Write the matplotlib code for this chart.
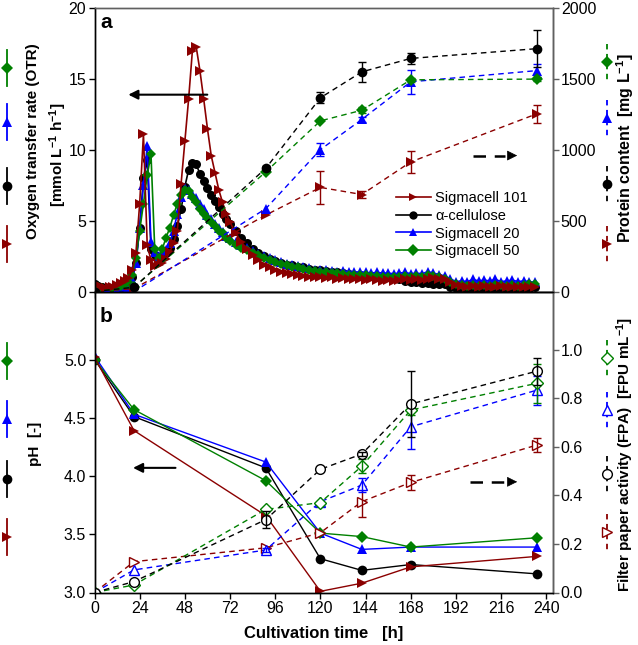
import numpy as np
import matplotlib
matplotlib.use('Agg')
import matplotlib.pyplot as plt
from matplotlib.lines import Line2D

plt.rcParams['font.family'] = ['Liberation Sans', 'DejaVu Sans']
plt.rcParams['mathtext.fontset'] = 'custom'
plt.rcParams['mathtext.rm'] = 'Liberation Sans'
plt.rcParams['mathtext.bf'] = 'Liberation Sans:bold'
plt.rcParams['mathtext.it'] = 'Liberation Sans:italic'

# --- data ---
names = ['Sigmacell 101', 'α-cellulose', 'Sigmacell 20', 'Sigmacell 50']
colors = ['#8b0000', 'black', 'blue', 'green']
markers = ['>', 'o', '^', 'D']

# online OTR [mmol/L/h]
t_otr = [0, 2, 4, 6, 8, 10, 12, 14, 16, 18, 20, 22, 24, 26, 28, 30, 32, 34,
         36, 38, 40, 42, 44, 46, 48, 50, 52, 54, 56, 58, 60, 62, 64, 66, 68, 70,
         72, 75, 78, 81, 84, 87, 90, 93, 96, 99, 102, 105, 108, 111, 114, 117,
         120, 123, 126, 129, 132, 135, 138, 141, 144, 147, 150, 153, 156, 159,
         162, 165, 168, 171, 174, 177, 180, 183, 186, 189, 192, 195, 198, 201,
         204, 207, 210, 213, 216, 219, 222, 225, 228, 231, 234]
otr_s101 = [0.5, 0.45, 0.3, 0.25, 0.3, 0.35, 0.45, 0.6, 0.75, 0.95, 1.5, 2.7,
            6.2, 11.1, 3.3, 2.2, 1.8, 1.9, 2.0, 2.3, 2.8, 3.4, 4.3, 7.6,
            10.6, 13.6, 17.0, 17.3, 15.6, 13.6, 11.5, 9.6, 8.4, 7.2, 6.3, 5.5,
            4.9, 4.1, 3.5, 3.0, 2.6, 2.2, 1.9, 1.7, 1.5, 1.4, 1.3, 1.25, 1.2, 1.1, 1.05,
            1.0, 1.0, 0.95, 1.0, 0.9, 0.95, 0.85, 0.9, 0.85, 0.8, 0.85, 0.8, 0.75, 0.8, 0.75,
            0.8, 0.85, 0.8, 0.85, 0.8, 0.9, 0.95, 0.9, 0.85, 0.7, 0.45, 0.4, 0.35, 0.4, 0.35,
            0.4, 0.35, 0.35, 0.4, 0.35, 0.3, 0.35, 0.3, 0.3, 0.35]
otr_acell = [0.5, 0.4, 0.3, 0.2, 0.2, 0.2, 0.25, 0.3, 0.4, 0.6, 1.0, 2.0,
             4.5, 8.0, 9.3, 3.0, 2.6, 2.4, 2.5, 2.7, 3.1, 3.7, 4.6, 5.8,
             7.4, 8.6, 9.1, 9.0, 8.3, 7.8, 7.3, 6.8, 6.4, 6.0, 5.5, 5.1,
             4.8, 4.3, 3.8, 3.4, 3.0, 2.7, 2.5, 2.3, 2.15, 2.0, 1.9, 1.85, 1.75, 1.7, 1.6,
             1.55, 1.5, 1.45, 1.4, 1.35, 1.3, 1.25, 1.2, 1.15, 1.1, 1.1, 1.05, 1.0, 1.0, 0.95,
             0.9, 0.75, 0.7, 0.65, 0.6, 0.6, 0.55, 0.55, 0.5, 0.35, 0.25, 0.2, 0.2, 0.25, 0.2,
             0.2, 0.25, 0.2, 0.2, 0.25, 0.2, 0.2, 0.25, 0.2, 0.3]
otr_s20 = [0.2, 0.15, 0.1, 0.05, 0.05, 0.05, 0.05, 0.1, 0.2, 0.4, 0.8, 2.0,
           4.5, 7.5, 10.3, 3.5, 2.8, 2.5, 2.6, 2.9, 3.4, 4.3, 5.5, 6.7,
           7.3, 7.2, 6.9, 6.6, 6.2, 5.8, 5.4, 5.1, 4.8, 4.5, 4.2, 3.9,
           3.75, 3.5, 3.25, 3.05, 2.85, 2.65, 2.5, 2.35, 2.2, 2.05, 1.95, 1.85, 1.8, 1.7, 1.65,
           1.55, 1.5, 1.5, 1.45, 1.4, 1.45, 1.4, 1.35, 1.4, 1.35, 1.3, 1.35, 1.3, 1.3, 1.25,
           1.3, 1.35, 1.25, 1.3, 1.25, 1.4, 1.3, 1.2, 1.1, 0.9, 0.7, 0.75, 0.7, 0.85, 0.75,
           0.8, 0.75, 0.85, 0.7, 0.75, 0.8, 0.7, 0.75, 0.7, 0.65]
otr_s50 = [0.4, 0.35, 0.25, 0.2, 0.2, 0.25, 0.3, 0.4, 0.5, 0.7, 1.2, 2.4,
           4.3, 6.2, 8.2, 9.7, 3.0, 2.4, 3.0, 3.8, 4.5, 5.4, 6.2, 6.8,
           7.2, 7.1, 6.7, 6.3, 5.8, 5.5, 5.2, 4.9, 4.6, 4.3, 4.1, 3.8,
           3.55, 3.3, 3.1, 2.95, 2.75, 2.55, 2.4, 2.25, 2.1, 1.95, 1.85, 1.75, 1.7, 1.6, 1.55,
           1.45, 1.4, 1.35, 1.3, 1.3, 1.25, 1.2, 1.2, 1.15, 1.15, 1.1, 1.1, 1.05, 1.05, 1.0,
           1.05, 1.1, 1.05, 1.1, 1.05, 1.15, 1.1, 1.0, 0.9, 0.7, 0.5, 0.45, 0.4, 0.45, 0.4,
           0.45, 0.4, 0.45, 0.45, 0.4, 0.45, 0.4, 0.45, 0.5, 0.55]

# offline samples
t_off = [0, 21, 91, 120, 142, 168, 235]
prot_s101 = [0, 20, 540, 735, 685, 915, 1255]
prot_acell = [0, 30, 870, 1368, 1551, 1646, 1715]
prot_s20 = [0, 0, 585, 1002, 1215, 1481, 1560]
prot_s50 = [0, 30, 845, 1205, 1280, 1495, 1500]
prot_s101_err = [0, 0, 0, 115, 25, 78, 62]
prot_acell_err = [0, 0, 15, 40, 70, 40, 130]
prot_s20_err = [0, 0, 0, 45, 15, 85, 47]
prot_s50_err = [0, 0, 0, 0, 20, 15, 15]

ph_s101 = [5.02, 4.39, 3.66, 3.01, 3.08, 3.22, 3.31]
ph_acell = [5.0, 4.51, 4.07, 3.29, 3.19, 3.24, 3.16]
ph_s20 = [5.03, 4.53, 4.12, 3.51, 3.37, 3.39, 3.39]
ph_s50 = [5.0, 4.57, 3.96, 3.51, 3.48, 3.39, 3.47]

fpa_s101 = [0, 0.127, 0.184, 0.246, 0.374, 0.453, 0.607]
fpa_acell = [0, 0.045, 0.30, 0.507, 0.57, 0.776, 0.911]
fpa_s20 = [0, 0.093, 0.175, 0.374, 0.442, 0.682, 0.833]
fpa_s50 = [0, 0.031, 0.342, 0.37, 0.52, 0.751, 0.861]
fpa_s101_err = [0, 0, 0, 0, 0.065, 0.03, 0.03]
fpa_acell_err = [0, 0, 0.035, 0, 0.01, 0.137, 0.056]
fpa_s20_err = [0, 0, 0.01, 0, 0.03, 0.09, 0.06]
fpa_s50_err = [0, 0, 0, 0, 0.03, 0.02, 0.08]

otr = [otr_s101, otr_acell, otr_s20, otr_s50]
prot = [prot_s101, prot_acell, prot_s20, prot_s50]
prot_err = [prot_s101_err, prot_acell_err, prot_s20_err, prot_s50_err]
ph = [ph_s101, ph_acell, ph_s20, ph_s50]
fpa = [fpa_s101, fpa_acell, fpa_s20, fpa_s50]
fpa_err = [fpa_s101_err, fpa_acell_err, fpa_s20_err, fpa_s50_err]

# --- figure ---
W, H = 638, 645
fig = plt.figure(figsize=(W / 100, H / 100), dpi=100)
ax1 = fig.add_axes([94.5 / W, 1 - 291.5 / H, 458 / W, 283.2 / H])
ax2 = fig.add_axes([94.5 / W, 1 - 592.5 / H, 458 / W, 301 / H], sharex=ax1)
ax1r = ax1.twinx()
ax2r = ax2.twinx()

gray = '#606060'
msz = {'>': 7, 'o': 6.5, '^': 7, 'D': 5.5}   # online OTR markers
msz2 = {'>': 7.5, 'o': 7, '^': 7.5, 'D': 6}  # offline markers


def errbars(ax, x, y, e, c):
    idx = [i for i in range(len(x)) if e[i] > 0]
    ax.errorbar([x[i] for i in idx], [y[i] for i in idx], yerr=[e[i] for i in idx],
                fmt='none', ecolor=c, elinewidth=1, capsize=3, capthick=1)


# top panel: OTR (solid) and protein (dashed)
handles = {}
for i in [1, 2, 3, 0]:
    h, = ax1.plot(t_otr, otr[i], color=colors[i], marker=markers[i], ms=msz[markers[i]],
                  mew=0, lw=1.2, label=names[i])
    handles[i] = h
for i in [0, 2, 3, 1]:
    ax1r.plot(t_off, prot[i], color=colors[i], marker=markers[i], ms=msz2[markers[i]],
              mew=0, lw=1, dashes=(4, 3))
    errbars(ax1r, t_off, prot[i], prot_err[i], colors[i])

# bottom panel: pH (solid, filled) and FPA (dashed, open)
for i in [1, 2, 3, 0]:
    ax2.plot(t_off, ph[i], color=colors[i], marker=markers[i], ms=msz2[markers[i]],
             mew=0, lw=1)
for i in [0, 2, 3, 1]:
    ax2r.plot(t_off, fpa[i], color=colors[i], marker=markers[i], ms=msz2[markers[i]],
              mfc='white', mew=1, lw=1, dashes=(4, 3))
    errbars(ax2r, t_off, fpa[i], fpa_err[i], colors[i])

# axes setup
ax1.set_xlim(0, 243.3)
ax1.set_ylim(0, 20)
ax1r.set_ylim(0, 2000)
ax2.set_ylim(3.0, 5.584)
ax2r.set_ylim(0, 1.239)
ax1.set_xticks(range(0, 241, 24))
ax1.set_yticks([0, 5, 10, 15, 20])
ax1r.set_yticks([0, 500, 1000, 1500, 2000])
ax2.set_yticks([3.0, 3.5, 4.0, 4.5, 5.0])
ax2.set_yticklabels(['3.0', '3.5', '4.0', '4.5', '5.0'])
ax2r.set_yticks([0, 0.2, 0.4, 0.6, 0.8, 1.0])
ax2r.set_yticklabels(['0.0', '0.2', '0.4', '0.6', '0.8', '1.0'])
ax1.tick_params(axis='x', labelbottom=False)

for ax in [ax1, ax2, ax1r, ax2r]:
    ax.tick_params(direction='out', length=4, width=1, labelsize=11.5, pad=2)
    for s in ax.spines.values():
        s.set_linewidth(1)
for ax in [ax1r, ax2r]:
    ax.spines['right'].set_color(gray)
    ax.tick_params(axis='y', color=gray)
ax1r.spines['top'].set_color(gray)
ax1.spines['top'].set_color(gray)

ax2.set_xlabel('Cultivation time   [h]', fontsize=12, fontweight='bold', labelpad=7)

# panel letters
ax1.text(0.012, 0.93, 'a', transform=ax1.transAxes, fontsize=15, fontweight='bold')
ax2.text(0.012, 0.899, 'b', transform=ax2.transAxes, fontsize=15, fontweight='bold')

# arrows
ax1.annotate('', xy=(16.5, 13.9), xytext=(61.4, 13.9),
             arrowprops=dict(arrowstyle='-|>', color='black', lw=1.5, mutation_scale=14))
ax1.plot([201, 218], [9.6, 9.6], color='black', lw=1.8, dashes=(5, 3.5))
ax1.annotate('', xy=(226, 9.6), xytext=(218.5, 9.6),
             arrowprops=dict(arrowstyle='-|>', color='black', lw=0.5, mutation_scale=16))
ax2.annotate('', xy=(19, 4.07), xytext=(44.5, 4.07),
             arrowprops=dict(arrowstyle='-|>', color='black', lw=1.5, mutation_scale=14))
ax2.plot([199.6, 218], [3.95, 3.95], color='black', lw=1.8, dashes=(5, 3.5))
ax2.annotate('', xy=(226, 3.95), xytext=(218.5, 3.95),
             arrowprops=dict(arrowstyle='-|>', color='black', lw=0.5, mutation_scale=16))

# legend
leg = ax1r.legend([handles[i] for i in range(4)], names, loc='upper left',
                  bbox_to_anchor=(0.635, 0.39), frameon=False, fontsize=10.5,
                  handlelength=2.4, handletextpad=0.3, labelspacing=0.25, borderpad=0.2)
for lh in leg.legend_handles:
    lh.set_markersize(6)

# axis labels
fig.text(33 / W, 1 - 141 / H, 'Oxygen transfer rate (OTR)', rotation=90, ha='center',
         va='center', fontsize=11, fontweight='bold')
fig.text(58 / W, 1 - 155 / H, r'[mmol L$^{\mathbf{-1}}$ h$^{\mathbf{-1}}$]', rotation=90,
         ha='center', va='center', fontsize=11, fontweight='bold')
fig.text(35 / W, 1 - 444 / H, 'pH  [-]', rotation=90, ha='center', va='center',
         fontsize=11, fontweight='bold')
fig.text(625 / W, 1 - 148 / H, r'Protein content  [mg L$^{\mathbf{-1}}$]', rotation=90,
         ha='center', va='center', fontsize=11.5, fontweight='bold')
fig.text(625 / W, 1 - 455 / H, r'Filter paper activity (FPA)  [FPU mL$^{\mathbf{-1}}$]',
         rotation=90, ha='center', va='center', fontsize=11, fontweight='bold')


# vertical legend keys beside the axis labels
def key(x, y, c, m, dashed=False, filled=True):
    ls = (0, (3, 2.5)) if dashed else '-'
    fig.add_artist(Line2D([x / W, x / W], [1 - (y - 18) / H, 1 - (y + 18) / H],
                          color=c, lw=1.3, ls=ls))
    fig.add_artist(Line2D([x / W], [1 - y / H], color=c, marker=m, ms=msz2[m],
                          mfc=c if filled else 'white', mew=0 if filled else 1))


order = [3, 2, 1, 0]
for k, yy in zip(order, [68, 122, 186, 244]):
    key(7, yy, colors[k], markers[k])
for k, yy in zip(order, [62, 118, 184, 244]):
    key(607, yy, colors[k], markers[k], dashed=True)
for k, yy in zip(order, [361, 419, 479, 537]):
    key(7, yy, colors[k], markers[k])
for k, yy in zip(order, [358, 410, 474, 532]):
    key(607, yy, colors[k], markers[k], dashed=True, filled=False)

fig.savefig('out.png', dpi=100)
